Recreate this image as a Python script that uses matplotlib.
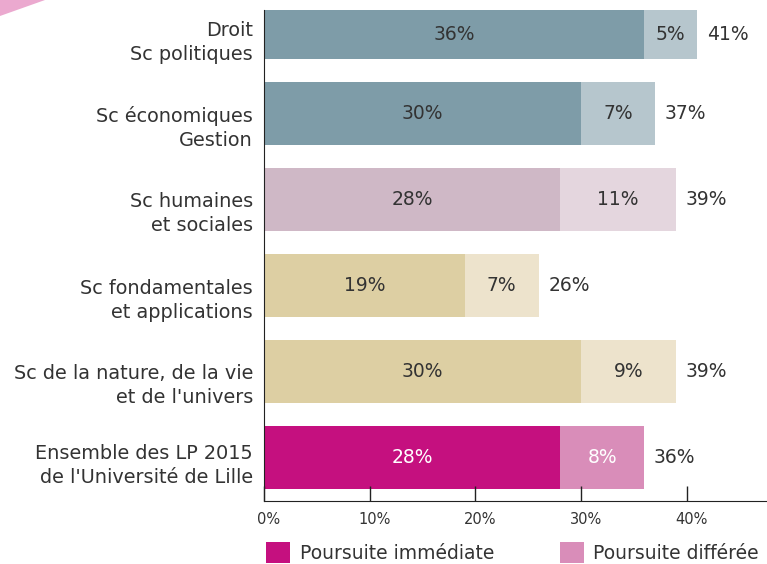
import matplotlib
matplotlib.use("Agg")
import matplotlib.pyplot as plt
from matplotlib.patches import Patch, Polygon
import matplotlib.transforms as mtransforms

plt.rcParams['font.family'] = ['DejaVu Sans']

categories = ["Droit\nSc politiques", "Sc économiques\nGestion", "Sc humaines\net sociales",
              "Sc fondamentales\net applications", "Sc de la nature, de la vie\net de l'univers",
              "Ensemble des LP 2015\nde l'Université de Lille"]
immediate = [36, 30, 28, 19, 30, 28]
deferred = [5, 7, 11, 7, 9, 8]
totals = [41, 37, 39, 26, 39, 36]
xticks = [0, 10, 20, 30, 40]
xticklabels = ["0%", "10%", "20%", "30%", "40%"]
legend_labels = ["Poursuite immédiate", "Poursuite différée"]

dark_colors = ["#7E9CA8", "#7E9CA8", "#CFB8C6", "#DDCFA3", "#DDCFA3", "#C5107F"]
light_colors = ["#B6C6CD", "#B6C6CD", "#E4D6DE", "#EDE3CC", "#EDE3CC", "#D98DB9"]
dark_text = ["#333333"] * 5 + ["white"]
light_text = ["#333333"] * 5 + ["white"]
label_drop_px = [11, 10, 9, 10, 9, 3]

fig = plt.figure(figsize=(7.67, 5.64), dpi=100)
ax = fig.add_axes([264/767, 1 - 501/564, 1 - 264/767, (501 - 10)/564])

# decorative pink corner
fig.patches.append(Polygon([[0, 1], [45/767, 1], [0, 1 - 16/564]], closed=True,
                           transform=fig.transFigure, facecolor="#EBA9CF", edgecolor="none"))

n = len(categories)
ypos = [n - 1 - i for i in range(n)]
h = 0.73
ytop = 5.2
ax.barh(ypos, immediate, height=h, color=dark_colors)
ax.barh(ypos, deferred, left=immediate, height=h, color=light_colors)

fs = 13.5
for y, a, b, t, ct1, ct2 in zip(ypos, immediate, deferred, totals, dark_text, light_text):
    yc = (min(y + h / 2, ytop) + (y - h / 2)) / 2
    ax.text(a / 2, yc, f"{a}%", ha="center", va="center", fontsize=fs, color=ct1)
    ax.text(a + b / 2, yc, f"{b}%", ha="center", va="center", fontsize=fs, color=ct2)
    ax.text(t + 0.9, yc, f"{t}%", ha="left", va="center", fontsize=fs, color="#333333")

ax.set_xlim(0, 47.6)
ax.set_ylim(-0.5, ytop)
ax.set_yticks(ypos)
ax.set_yticklabels(categories, fontsize=13.9, color="#333333", linespacing=1.35)
ax.tick_params(axis="y", length=0, pad=8)
for lab, d in zip(ax.get_yticklabels(), label_drop_px):
    lab.set_transform(lab.get_transform() +
                      mtransforms.ScaledTranslation(0, -d/100, fig.dpi_scale_trans))
ax.set_xticks(xticks)
ax.set_xticklabels(xticklabels, fontsize=10.5, color="#333333")
ax.tick_params(axis="x", direction="in", length=11, width=1, color="#222222", pad=8)
offset = mtransforms.ScaledTranslation(5/100, 0, fig.dpi_scale_trans)
for lab in ax.get_xticklabels():
    lab.set_transform(lab.get_transform() + offset)
for s in ["top", "right"]:
    ax.spines[s].set_visible(False)
ax.spines["left"].set_color("#222222")
ax.spines["bottom"].set_color("#222222")

handles = [Patch(facecolor="#C5107F", edgecolor="none"), Patch(facecolor="#D98DB9", edgecolor="none")]
fig.legend(handles, legend_labels, loc="lower left",
           bbox_to_anchor=(249/767, -0.028), ncol=2, frameon=False, fontsize=13.5,
           handlelength=1.3, handleheight=1.3, handletextpad=0.5, columnspacing=3.5,
           labelcolor="#333333")

fig.savefig("out.png", dpi=100)
